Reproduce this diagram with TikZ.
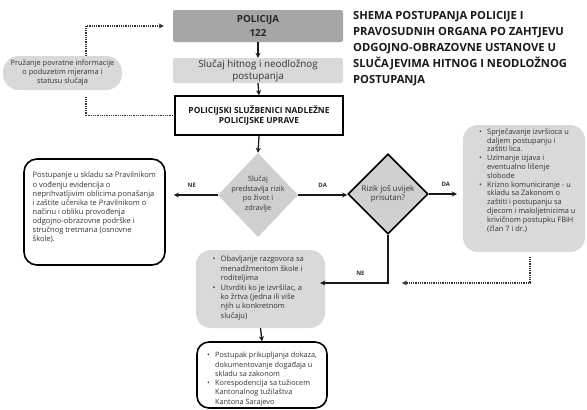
\documentclass[tikz,border=0pt]{standalone}
\usepackage{fontspec}
\setmainfont{Open Sans}
\usetikzlibrary{shapes.geometric,arrows.meta,calc}
\definecolor{dgray}{HTML}{A6A6A6}
\definecolor{lgray}{HTML}{D9D9D9}
\definecolor{mgray}{HTML}{CFCFCF}
\definecolor{txt}{HTML}{333333}
\newcommand{\bl}[1]{\makebox[8pt][l]{\textbullet}#1}
\newcommand{\cl}[1]{\hspace*{8pt}#1}
\begin{document}
\begin{tikzpicture}[x=1pt,y=-1pt,
  box/.style={rectangle, inner sep=0pt, align=center, text=txt},
  txtblk/.style={inner sep=0pt, align=left, anchor=north west, text=txt},
  arr/.style={line width=1.3pt, draw=black!90, -{Stealth[length=5pt,width=5pt]}},
  dotline/.style={line width=1.1pt, draw=black!80, dash pattern=on 0.9pt off 0.9pt},
  dotarr/.style={dotline, -{Stealth[length=5pt,width=5pt]}},
  lbl/.style={font=\bfseries\fontsize{6}{7}\selectfont, text=txt}
]
\fill[white] (0,0) rectangle (587,410);
\useasboundingbox (0,0) rectangle (587,410);

% title
\node[inner sep=0pt, anchor=north west, align=left, text=black!90,
  font=\bfseries\fontsize{11.2}{16}\selectfont] (title) at (353,11.5)
  {SHEMA POSTUPANJA POLICIJE I\\PRAVOSUDNIH ORGANA PO ZAHTJEVU\\ODGOJNO-OBRAZOVNE USTANOVE U\\SLUČAJEVIMA HITNOG I NEODLOŽNOG\\POSTUPANJA};

% top column
\node[box, fill=dgray, rounded corners=2pt, minimum width=170pt, minimum height=32pt,
  font=\bfseries\fontsize{9.8}{14}\selectfont, text=black!85] (pol) at (258,26) {POLICIJA\\122};
\node[box, fill=lgray, rounded corners=2pt, minimum width=170pt, minimum height=25pt,
  font=\fontsize{9.8}{12}\selectfont] (hit) at (258,70.5) {Slučaj hitnog i neodložnog\\postupanja};
\node[box, draw=black, line width=1.6pt, minimum width=168pt, minimum height=39pt,
  font=\bfseries\fontsize{8.4}{10.5}\selectfont, text=black!90] (psl) at (259,115.5)
  {POLICIJSKI SLUŽBENICI NADLEŽNE\\POLICIJSKE UPRAVE};

% feedback pill
\node[box, fill=lgray, rounded corners=16pt, minimum width=119pt, minimum height=34pt,
  font=\fontsize{7.4}{9}\selectfont] (fb) at (62.5,73)
  {Pružanje povratne informacije\\o poduzetim mjerama i\\statusu slučaja};

% diamonds
\node[diamond, fill=mgray, minimum width=80pt, minimum height=84pt, inner sep=0pt] (d1) at (258,195) {};
\node[box, font=\fontsize{7.3}{9.6}\selectfont] (d1t) at (258,194) {Slučaj\\predstavlja rizik\\po život i\\zdravlje};
\node[diamond, fill=mgray, draw=black, line width=1.6pt, minimum width=80pt, minimum height=80pt, inner sep=0pt] (d2) at (388,194) {};
\node[box, font=\fontsize{7.9}{8.6}\selectfont] (d2t) at (388,194) {Rizik još uvijek\\prisutan?};

% left box
\node[box, draw=black, line width=1.6pt, rounded corners=13pt, minimum width=141pt, minimum height=106pt] (lb) at (94.5,212) {};
\node[txtblk, font=\fontsize{7.5}{9.15}\selectfont] (lbt) at (32.5,172)
  {Postupanje u skladu sa Pravilnikom\\o vođenju evidencija o\\neprihvatljivim oblicima ponašanja\\i zaštite učenika te Pravilnikom o\\načinu i obliku provođenja\\odgojno-obrazovne podrške i\\stručnog tretmana (osnovne\\škole).};

% right box
\node[box, fill=lgray, rounded corners=15pt, minimum width=122pt, minimum height=127pt] (rb) at (524,188.5) {};
\node[txtblk, font=\fontsize{7.4}{8.8}\selectfont] (rbt) at (479,128.5)
  {\bl{Sprječavanje izvršioca u}\\\cl{daljem postupanju i}\\\cl{zaštiti lica.}\\\bl{Uzimanje izjava i}\\\cl{eventualno lišenje}\\\cl{slobode}\\\bl{Krizno komuniciranje - u}\\\cl{skladu sa Zakonom o}\\\cl{zaštiti i postupanju sa}\\\cl{djecom i maloljetnicima u}\\\cl{krivičnom postupku FBiH}\\\cl{(član 7 i dr.)}};

% middle box
\node[box, fill=lgray, rounded corners=15pt, minimum width=129pt, minimum height=78pt] (mb) at (260.5,289) {};
\node[txtblk, font=\fontsize{7.5}{9.4}\selectfont] (mbt) at (212.5,256)
  {\bl{Obavljanje razgovora sa}\\\cl{menadžmentom škole i}\\\cl{roditeljima}\\\bl{Utvrditi ko je izvršilac, a}\\\cl{ko žrtva (jedna ili više}\\\cl{njih u konkretnom}\\\cl{slučaju)}};

% bottom box
\node[box, draw=black, line width=1.6pt, rounded corners=12pt, minimum width=130pt, minimum height=66pt] (bb) at (262,375) {};
\node[txtblk, font=\fontsize{7.3}{9.3}\selectfont] (bbt) at (207,352)
  {\bl{Postupak prikupljanja dokaza,}\\\cl{dokumentovanje događaja u}\\\cl{skladu sa zakonom}\\\bl{Korespodencija sa tužiocem}\\\cl{Kantonalnog tužilaštva}\\\cl{Kantona Sarajevo}};

% connectors
\draw[arr] (pol.south) -- (hit.north);
\draw[arr] (hit.south) -- (psl.north);
\draw[arr] (psl.south) -- (d1.north);
\draw[arr, shorten >=8pt] (d1.west) -- (d1.west -| lb.east) node[lbl, midway, above=4pt] {NE};
\draw[arr] (d1.east) -- (d1.east -| d2.west) node[lbl, midway, above=4pt] {DA};
\draw[arr, shorten >=6pt] (d2.east) -- (d2.east -| rb.west) node[lbl, midway, above=4pt] {DA};
\coordinate (mbin) at ($(mb.east)+(0,-6)$);
\draw[arr, shorten >=-5pt] (d2.south) |- (mbin) node[lbl, pos=0.72, above=4pt] {NE};
\draw[arr] (mb.south) -- (bb.north);

% dotted feedback connectors
\coordinate (rbend) at (402,283);
\draw[dotarr] ($(rb.south)+(6,5)$) |- (rbend);
\draw[dotarr, shorten >=9pt] ($(fb.north)+(23.5,0)$) |- (pol.west);
\draw[dotline] ($(fb.south)+(23.5,7)$) |- (psl.west);
\end{tikzpicture}
\end{document}
